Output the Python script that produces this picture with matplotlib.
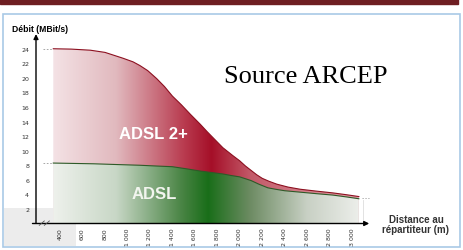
import matplotlib.pyplot as plt
import numpy as np
from matplotlib.patches import Rectangle

# données (distance en m, débit en Mbit/s)
dist_adsl2 = [340, 500, 670, 800, 960, 1050, 1110, 1180, 1260, 1330, 1400, 1480, 1560, 1650, 1710, 1780,
              1850, 1940, 2000, 2050, 2100, 2150, 2200, 2260, 2330, 2430, 2540, 2680, 2830, 2950, 3060]
debit_adsl2 = [24.0, 23.95, 23.8, 23.5, 22.7, 22.2, 21.7, 21.0, 19.9, 18.8, 17.5, 16.3, 15.0, 13.6, 12.6, 11.5,
               10.4, 9.3, 8.6, 7.9, 7.3, 6.7, 6.2, 5.8, 5.4, 5.0, 4.7, 4.45, 4.2, 3.95, 3.7]

dist_adsl = [340, 700, 900, 1110, 1250, 1400, 1530, 1650, 1750, 1850, 1920, 2000, 2100, 2170, 2250,
             2320, 2400, 2540, 2680, 2830, 2950, 3060]
debit_adsl = [8.3, 8.2, 8.1, 8.0, 7.9, 7.8, 7.5, 7.2, 7.0, 6.8, 6.6, 6.4, 5.9, 5.4, 4.9,
              4.7, 4.5, 4.3, 4.1, 3.9, 3.65, 3.4]

y_ticks = [2, 4, 6, 8, 10, 12, 14, 16, 18, 20, 22, 24]
x_ticks = [400, 600, 800, 1000, 1200, 1400, 1600, 1800, 2000, 2200, 2400, 2600, 2800, 3000]
x_labels = ["400", "600", "800", "1 000", "1 200", "1 400", "1 600", "1 800",
            "2 000", "2 200", "2 400", "2 600", "2 800", "3 000"]

W, H = 463, 251
fig = plt.figure(figsize=(W / 100, H / 100), dpi=100)
fig.patch.set_facecolor("white")

# cadre et bandeau
fig.patches.append(Rectangle((0, 1 - 5 / H), 458 / W, 5 / H, transform=fig.transFigure,
                             color="#6e1e22", zorder=-2))
fig.patches.append(Rectangle((4 / W, 4 / H), 72 / W, 38 / H, transform=fig.transFigure,
                             facecolor="#ececec", edgecolor="none", zorder=-2))
fig.patches.append(Rectangle((3 / W, 3 / H), 457 / W, 233 / H, transform=fig.transFigure,
                             facecolor="none", edgecolor="#a9c9e6", lw=1.2, zorder=-1))

ax = fig.add_axes([36 / W, 26.5 / H, 336 / W, 191.5 / H])
ax.set_zorder(1)
ax.patch.set_alpha(0)
for s in ax.spines.values():
    s.set_visible(False)


def gradient(xs, anchors, cols):
    cols = np.array(cols) / 255.0
    img = np.zeros((1, len(xs), 3))
    for c in range(3):
        img[0, :, c] = np.interp(xs, anchors, cols[:, c])
    return img


xs = np.linspace(340, 3060, 400)
red_img = gradient(xs, [340, 900, 1500, 1750, 2100, 3060],
                   [(244, 226, 229), (225, 185, 190), (185, 60, 80), (165, 15, 40), (195, 90, 105), (225, 160, 168)])
green_img = gradient(xs, [340, 900, 1500, 1720, 2100, 2600, 3060],
                     [(238, 241, 236), (200, 215, 198), (70, 130, 65), (25, 110, 25), (110, 140, 100), (200, 208, 196), (236, 238, 234)])

poly_r = ax.fill_between(dist_adsl2, 0, debit_adsl2, color="none", lw=0)
im_r = ax.imshow(red_img, extent=[340, 3060, 0, 24], aspect="auto", zorder=1)
im_r.set_clip_path(poly_r.get_paths()[0], transform=ax.transData)

poly_g = ax.fill_between(dist_adsl, 0, debit_adsl, color="none", lw=0)
im_g = ax.imshow(green_img, extent=[340, 3060, 0, 9], aspect="auto", zorder=2)
im_g.set_clip_path(poly_g.get_paths()[0], transform=ax.transData)

ax.plot(dist_adsl2, debit_adsl2, color="#8c1020", lw=0.8, zorder=3)
ax.plot(dist_adsl, debit_adsl, color="#2e5a28", lw=0.8, zorder=3)
ax.set_xlim(186, 3177)
ax.set_ylim(0, 26.3)

# petits repères pointillés
for yv in [24, debit_adsl[0]]:
    ax.plot([245, 330], [yv, yv], color="#999999", lw=0.6, ls=(0, (2, 2)), zorder=3)
ax.plot([3090, 3150], [debit_adsl2[-1] - 0.2] * 2, color="#999999", lw=0.6, ls=(0, (1.5, 2)), zorder=3)
ax.plot([3100, 3100], [0.3, 3.2], color="#dddddd", lw=0.6, zorder=3)

# axes avec flèches
ax.annotate("", xy=(3177, 0), xytext=(130, 0),
            arrowprops=dict(arrowstyle="-|>", color="black", lw=1.0, mutation_scale=7),
            annotation_clip=False, zorder=5)
ax.annotate("", xy=(186, 26.4), xytext=(186, -0.3),
            arrowprops=dict(arrowstyle="-|>", color="black", lw=1.0, mutation_scale=7),
            annotation_clip=False, zorder=5)
ax.plot([215, 260], [-0.25, 0.35], color="#555555", lw=0.6, clip_on=False, zorder=5)
ax.plot([260, 305], [-0.25, 0.35], color="#555555", lw=0.6, clip_on=False, zorder=5)

ax.set_yticks(y_ticks)
ax.set_yticklabels([str(v) for v in y_ticks], fontsize=4.5, color="#333333")
ax.set_xticks(x_ticks)
ax.set_xticklabels(x_labels, rotation=90, fontsize=4.5, color="#333333")
ax.tick_params(axis="both", length=0, pad=5)
ax.tick_params(axis="x", pad=3)

# textes
ax.text(1228, 12.3, "ADSL 2+", color="white", fontsize=12, fontweight="bold",
        ha="center", va="center", family="Liberation Sans", zorder=4)
ax.text(1235, 4.1, "ADSL", color="#f2f5ef", fontsize=12, fontweight="bold",
        ha="center", va="center", family="Liberation Sans", zorder=4)
fig.text(12 / W, 1 - 30 / H, "Débit (MBit/s)", fontsize=6.2, fontweight="bold",
         ha="left", va="center", family="Liberation Sans")
fig.text(306 / W, 1 - 77 / H, "Source ARCEP", fontsize=19, family="Liberation Serif",
         ha="center", va="center")
fig.text(416 / W, 1 - 225 / H, "Distance au\nrépartiteur (m)", fontsize=7, fontweight="bold",
         ha="center", va="center", family="Liberation Sans", color="#333333", linespacing=1.1)

fig.savefig("out.png", dpi=100)
